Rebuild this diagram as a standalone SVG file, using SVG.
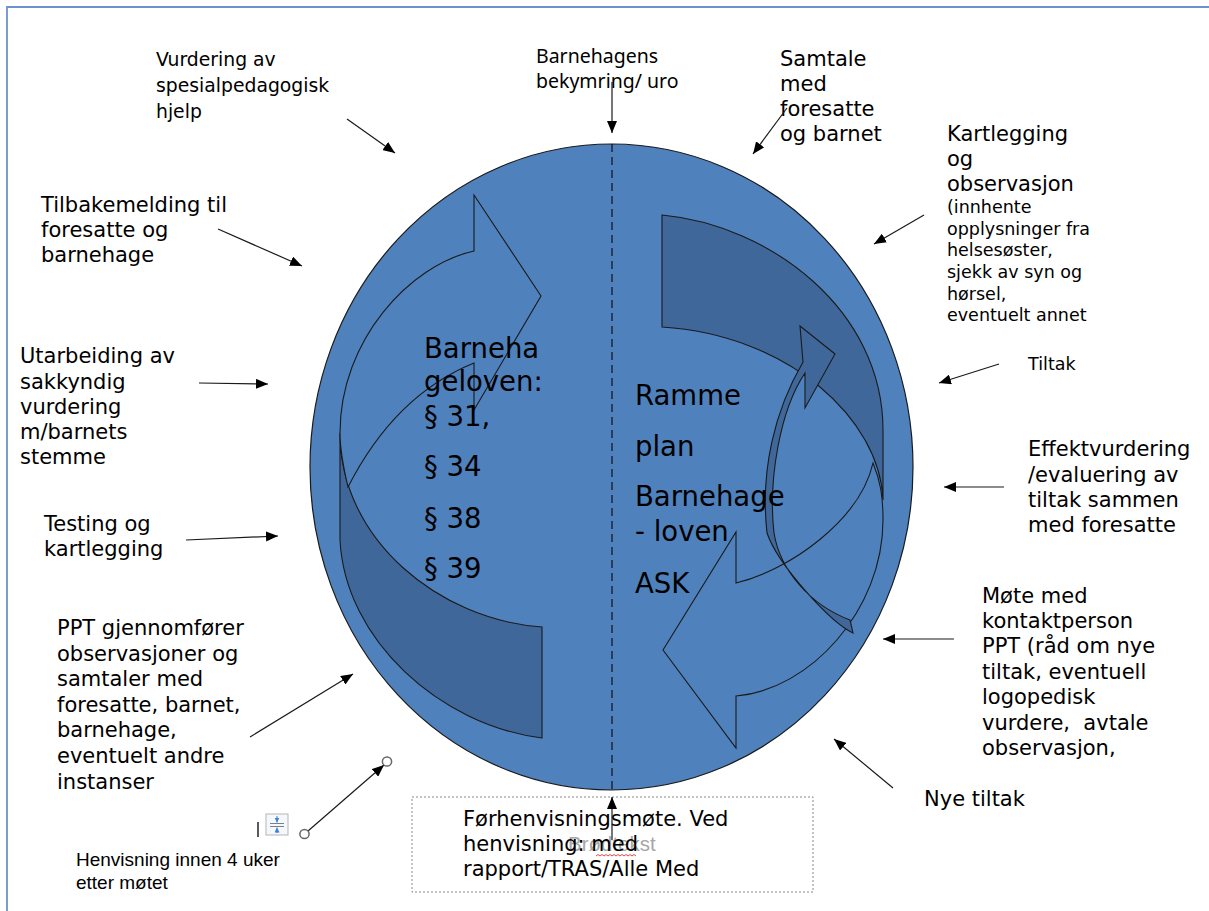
<svg xmlns="http://www.w3.org/2000/svg" width="1209" height="911" viewBox="0 0 1209 911">
<defs>
<style>
.lbl{font-family:"DejaVu Sans",Verdana,sans-serif;fill:#000}
.f21{font-size:21px}
.f18{font-size:18.8px}
.f175{font-size:17.5px}
.big{font-family:"DejaVu Sans",Verdana,sans-serif;font-size:27.5px;fill:#000}
.con{stroke:#1a1a1a;stroke-width:1.2;fill:none;marker-end:url(#ah)}
.shape{stroke:#1a1a1a;stroke-width:1.1}
.light{fill:#4f81bd}
.dark{fill:#406799}
</style>
<marker id="ah" viewBox="0 0 12 10" refX="12" refY="5" markerWidth="12" markerHeight="10" markerUnits="userSpaceOnUse" orient="auto">
<path d="M0,0 L12,5 L0,10 Z" fill="#000"/>
</marker>
<marker id="ahs" viewBox="0 0 6 6" refX="6" refY="3" markerWidth="5" markerHeight="5" markerUnits="userSpaceOnUse" orient="auto">
<path d="M0,0 L6,3 L0,6 Z" fill="#3c7fd8"/>
</marker>
</defs>
<rect width="1209" height="911" fill="#fff"/>
<path d="M7,911 L7,7 L1209,7" fill="none" stroke="#6a93cb" stroke-width="1.8"/>

<g id="cycle">
<ellipse cx="611.5" cy="467" rx="301.5" ry="323" class="light" stroke="#1a1a1a" stroke-width="1.2"/>
<line x1="612" y1="144" x2="612" y2="790" stroke="#111" stroke-width="1.2" stroke-dasharray="8,5"/>
<!-- left curved arrow -->
<path class="shape dark" d="M340,433 L340,540 C345,640 440,725 542,738 L542,627 C440,620 340,540 340,433 Z"/>
<path class="shape light" d="M474,195 L541,296 L474,410 L474,363 Q395,395 348,487 C344,470 340,450 340,433 C340,340 410,265 474,251 Z"/>
<!-- right curved arrow -->
<path class="shape dark" d="M662,215 C770,225 883,310 883,430 L883,500 C880,420 790,335 662,327 Z"/>
<path class="shape light" d="M663,650 L736,532 L736,583 C790,570 860,520 873,463 C880,480 883,495 883,520 C883,610 810,690 736,696 L736,748 Z"/>
<!-- small circular arrow -->
<path class="shape dark" d="M800,326 L835,354 L805,408 L805,373 C780,410 768,480 774,533 C780,570 810,605 850,620 L853,633 C830,622 778,565 767,533 C760,470 775,410 803,362 Z"/>
</g>

<g id="center-left">
<text class="big"><tspan x="424" y="358">Barneha</tspan><tspan x="424" y="391">geloven:</tspan><tspan x="424" y="426">§ 31,</tspan><tspan x="424" y="476">§ 34</tspan><tspan x="424" y="528">§ 38</tspan><tspan x="424" y="578">§ 39</tspan></text>
</g>
<g id="center-right">
<text class="big"><tspan x="635" y="405">Ramme</tspan><tspan x="635" y="456">plan</tspan><tspan x="635" y="506">Barnehage</tspan><tspan x="635" y="541">- loven</tspan><tspan x="635" y="593">ASK</tspan></text>
</g>

<g id="n-vurdering">
<text class="lbl f18"><tspan x="156" y="66">Vurdering av</tspan><tspan x="156" y="92">spesialpedagogisk</tspan><tspan x="156" y="118">hjelp</tspan></text>
</g>
<g id="n-bekymring">
<text style="font-family:'Noto Sans','Open Sans',sans-serif;font-size:19.5px;fill:#000"><tspan x="536" y="63">Barnehagens</tspan><tspan x="536" y="88">bekymring/ uro</tspan></text>
</g>
<g id="n-samtale">
<text class="lbl f21"><tspan x="780" y="66">Samtale</tspan><tspan x="780" y="91">med</tspan><tspan x="780" y="116">foresatte</tspan><tspan x="780" y="141">og barnet</tspan></text>
</g>
<g id="n-kartlegging">
<text class="lbl f21"><tspan x="947" y="141">Kartlegging</tspan><tspan x="947" y="166">og</tspan><tspan x="947" y="191">observasjon</tspan></text>
<text class="lbl f175"><tspan x="947" y="213">(innhente</tspan><tspan x="947" y="235">opplysninger fra</tspan><tspan x="947" y="256">helsesøster,</tspan><tspan x="947" y="278">sjekk av syn og</tspan><tspan x="947" y="300">hørsel,</tspan><tspan x="947" y="321">eventuelt annet</tspan></text>
</g>
<g id="n-tiltak">
<text class="lbl f175" x="1028" y="370">Tiltak</text>
</g>
<g id="n-effekt">
<text class="lbl f21"><tspan x="1028" y="456">Effektvurdering</tspan><tspan x="1028" y="482">/evaluering av</tspan><tspan x="1028" y="507">tiltak sammen</tspan><tspan x="1028" y="532">med foresatte</tspan></text>
</g>
<g id="n-mote">
<text class="lbl f21"><tspan x="982" y="603">Møte med</tspan><tspan x="982" y="628">kontaktperson</tspan><tspan x="982" y="653">PPT (råd om nye</tspan><tspan x="982" y="679">tiltak, eventuell</tspan><tspan x="982" y="704">logopedisk</tspan><tspan x="982" y="730" xml:space="preserve">vurdere,  avtale</tspan><tspan x="982" y="755">observasjon,</tspan></text>
</g>
<g id="n-nye">
<text class="lbl f21" x="924" y="806">Nye tiltak</text>
</g>
<g id="n-forhenvisning">
<rect x="412" y="797" width="401" height="95" fill="none" stroke="#888" stroke-width="1" stroke-dasharray="2,2"/>
<text x="568" y="851" style="font-family:'Liberation Sans',Arial,sans-serif;font-size:20.5px;fill:#a6a6a6">Brødtekst</text>
<text class="lbl f21"><tspan x="463" y="826">Førhenvisningsmøte. Ved</tspan><tspan x="463" y="851">henvisning: med</tspan><tspan x="463" y="876">rapport/TRAS/Alle Med</tspan></text>
<path d="M596,856 l2,-1.5 l2,1.5 l2,-1.5 l2,1.5 l2,-1.5 l2,1.5 l2,-1.5 l2,1.5 l2,-1.5 l2,1.5 l2,-1.5 l2,1.5 l2,-1.5 l2,1.5 l2,-1.5 l2,1.5 l2,-1.5 l2,1.5 l2,-1.5 l2,1.5" fill="none" stroke="#e03030" stroke-width="0.9"/>
</g>
<g id="n-utarbeiding">
<text class="lbl f21"><tspan x="20" y="363">Utarbeiding av</tspan><tspan x="20" y="389">sakkyndig</tspan><tspan x="20" y="414">vurdering</tspan><tspan x="20" y="439">m/barnets</tspan><tspan x="20" y="464">stemme</tspan></text>
</g>
<g id="n-testing">
<text class="lbl f21"><tspan x="44" y="531">Testing og</tspan><tspan x="44" y="556">kartlegging</tspan></text>
</g>
<g id="n-tilbakemelding">
<text class="lbl f21"><tspan x="41" y="212">Tilbakemelding til</tspan><tspan x="41" y="237">foresatte og</tspan><tspan x="41" y="262">barnehage</tspan></text>
</g>
<g id="n-ppt">
<text class="lbl f21"><tspan x="57" y="635">PPT gjennomfører</tspan><tspan x="57" y="661">observasjoner og</tspan><tspan x="57" y="686">samtaler med</tspan><tspan x="57" y="712">foresatte, barnet,</tspan><tspan x="57" y="737">barnehage,</tspan><tspan x="57" y="763">eventuelt andre</tspan><tspan x="57" y="789">instanser</tspan></text>
</g>
<g id="n-henvisning">
<text style="font-family:'Liberation Sans',Arial,sans-serif;font-size:19px;fill:#000"><tspan x="76" y="866">Henvisning innen 4 uker</tspan><tspan x="76" y="889">etter møtet</tspan></text>
</g>
<g id="ui-marks">
<line x1="258" y1="822" x2="258" y2="837" stroke="#000" stroke-width="1.3"/>
<rect x="266" y="814" width="22" height="21" fill="#f4f7fb" stroke="#b5b5b5" stroke-width="1"/>
<line x1="270" y1="823.5" x2="284" y2="823.5" stroke="#808080" stroke-width="1"/>
<line x1="270" y1="826.5" x2="284" y2="826.5" stroke="#808080" stroke-width="1"/>
<line x1="277" y1="816" x2="277" y2="822.5" stroke="#3c7fd8" stroke-width="1" marker-end="url(#ahs)"/>
<line x1="277" y1="833" x2="277" y2="827.5" stroke="#3c7fd8" stroke-width="1" marker-end="url(#ahs)"/>
</g>

<g id="connectors">
<line class="con" x1="347" y1="119" x2="395" y2="153"/>
<line class="con" x1="218" y1="229" x2="302" y2="266"/>
<line class="con" x1="612" y1="82" x2="612" y2="133"/>
<line class="con" x1="787" y1="108" x2="753" y2="154"/>
<line class="con" x1="924" y1="215" x2="874" y2="244"/>
<line class="con" x1="199" y1="383" x2="268" y2="384"/>
<line class="con" x1="186" y1="540" x2="278" y2="536"/>
<line class="con" x1="999" y1="364" x2="939" y2="383"/>
<line class="con" x1="1004" y1="487" x2="944" y2="487"/>
<line class="con" x1="954" y1="639" x2="883" y2="639"/>
<line class="con" x1="893" y1="788" x2="834" y2="739"/>
<line class="con" x1="250" y1="737" x2="353" y2="674"/>
<line class="con" x1="612" y1="840" x2="612" y2="797"/>
<line class="con" x1="308" y1="831" x2="384" y2="765"/>
<circle cx="304.5" cy="834" r="4.6" fill="#fff" stroke="#666" stroke-width="1.5"/>
<circle cx="387" cy="761.5" r="4.6" fill="#fff" stroke="#666" stroke-width="1.5"/>
</g>
</svg>
